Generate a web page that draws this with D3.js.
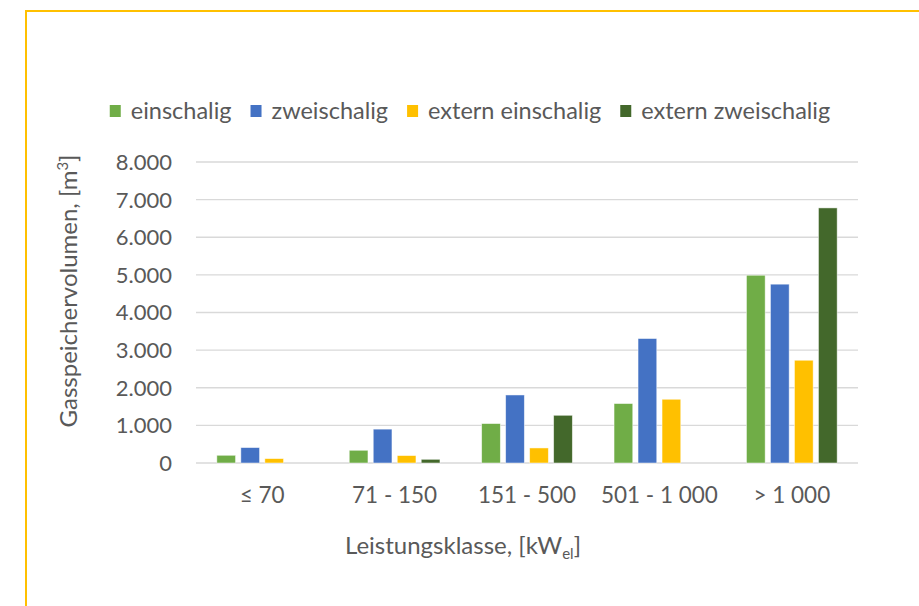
<!DOCTYPE html>
<html>
<head>
<meta charset="utf-8">
<script src="https://cdn.jsdelivr.net/npm/d3@7"></script>
<style>
  html, body { margin: 0; padding: 0; background: #fff; }
  svg { display: block; }
  text { font-family: Lato, "Open Sans", sans-serif; fill: #595959; }
</style>
</head>
<body>
<svg id="chart"></svg>
<script>
// ── data ────────────────────────────────────────────────────────────────
const categories = ['≤ 70', '71 - 150', '151 - 500', '501 - 1 000', '> 1 000'];
const seriesNames = ['einschalig', 'zweischalig', 'extern einschalig', 'extern zweischalig'];
const einschalig        = [205, 338, 1048, 1580, 4990];
const zweischalig       = [410, 900, 1808, 3308, 4753];
const externEinschalig  = [117, 197, 400, 1694, 2731];
const externZweischalig = [0, 98, 1268, 0, 6780];
const yTicks = [0, 1000, 2000, 3000, 4000, 5000, 6000, 7000, 8000];

const seriesValues = [einschalig, zweischalig, externEinschalig, externZweischalig];
const colors = ['#70AD47', '#4472C4', '#FFC000', '#43682B'];

// ── layout ──────────────────────────────────────────────────────────────
const W = 919, H = 606;
const plot = { left: 196, right: 858, top: 162, bottom: 463 };

const svg = d3.select('#chart').attr('width', W).attr('height', H);

// yellow frame (runs off the right and bottom edge)
svg.append('path')
  .attr('d', `M${W + 5},11 H26 V${H + 5}`)
  .attr('fill', 'none').attr('stroke', '#FFC000').attr('stroke-width', 2);

const x0 = d3.scaleBand().domain(categories).range([plot.left, plot.right]);
const x1 = d3.scaleBand().domain(seriesNames).range([-48, 48])
  .paddingInner(0.22).paddingOuter(0.11);
const y = d3.scaleLinear().domain([0, 8000]).range([plot.bottom, plot.top]);

const fmt = v => d3.format(',')(v).replace(/,/g, '.');

// gridlines
svg.append('g').selectAll('line').data(yTicks).join('line')
  .attr('x1', plot.left).attr('x2', plot.right)
  .attr('y1', d => y(d)).attr('y2', d => y(d))
  .attr('stroke', '#d9d9d9').attr('stroke-width', 1.3);

// y tick labels
svg.append('g').selectAll('text').data(yTicks).join('text')
  .attr('x', 172).attr('y', d => y(d)).attr('dy', '0.36em')
  .attr('text-anchor', 'end').attr('font-size', '22px')
  .text(fmt);

// bars
const rows = seriesNames.map((s, i) => categories.map((c, j) => ({ s, c, v: seriesValues[i][j], col: colors[i] })));
svg.append('g').selectAll('g').data(rows).join('g')
  .selectAll('rect').data(d => d.filter(r => r.v > 0)).join('rect')
  .attr('x', d => x0(d.c) + x0.bandwidth() / 2 + x1(d.s))
  .attr('width', x1.bandwidth())
  .attr('y', d => y(d.v))
  .attr('height', d => y(0) - y(d.v))
  .attr('fill', d => d.col)
  .attr('stroke', '#ffffff').attr('stroke-opacity', 0.6).attr('stroke-width', 0.8);

// x tick labels
svg.append('g').selectAll('text').data(categories).join('text')
  .attr('x', d => x0(d) + x0.bandwidth() / 2).attr('y', 503)
  .attr('text-anchor', 'middle').attr('font-size', '22.5px')
  .text(d => d);

// axis titles
const xt = svg.append('text').attr('x', 463).attr('y', 554)
  .attr('text-anchor', 'middle').attr('font-size', '24px');
xt.append('tspan').text('Leistungsklasse, [kW');
xt.append('tspan').attr('font-size', '15px').attr('dy', 5).text('el');
xt.append('tspan').attr('dy', -5).text(']');

const yt = svg.append('text')
  .attr('transform', 'translate(77,291) rotate(-90)')
  .attr('text-anchor', 'middle').attr('font-size', '24px');
yt.append('tspan').text('Gasspeichervolumen, [m');
yt.append('tspan').attr('font-size', '15px').attr('dy', -9).text('3');
yt.append('tspan').attr('dy', 9).text(']');

// legend
const leg = svg.append('g');
let lx = 0;
seriesNames.forEach((s, i) => {
  const it = leg.append('g').attr('transform', `translate(${lx},0)`);
  it.append('rect').attr('x', 0).attr('y', -12).attr('width', 11).attr('height', 12).attr('fill', colors[i]);
  const t = it.append('text').attr('x', 21).attr('y', 0).attr('dy', '0.1em')
    .attr('font-size', '23.5px').text(s);
  lx += 21 + t.node().getComputedTextLength() + 19;
});
lx -= 19;
leg.attr('transform', `translate(${470 - lx / 2},117)`);
</script>
</body>
</html>
